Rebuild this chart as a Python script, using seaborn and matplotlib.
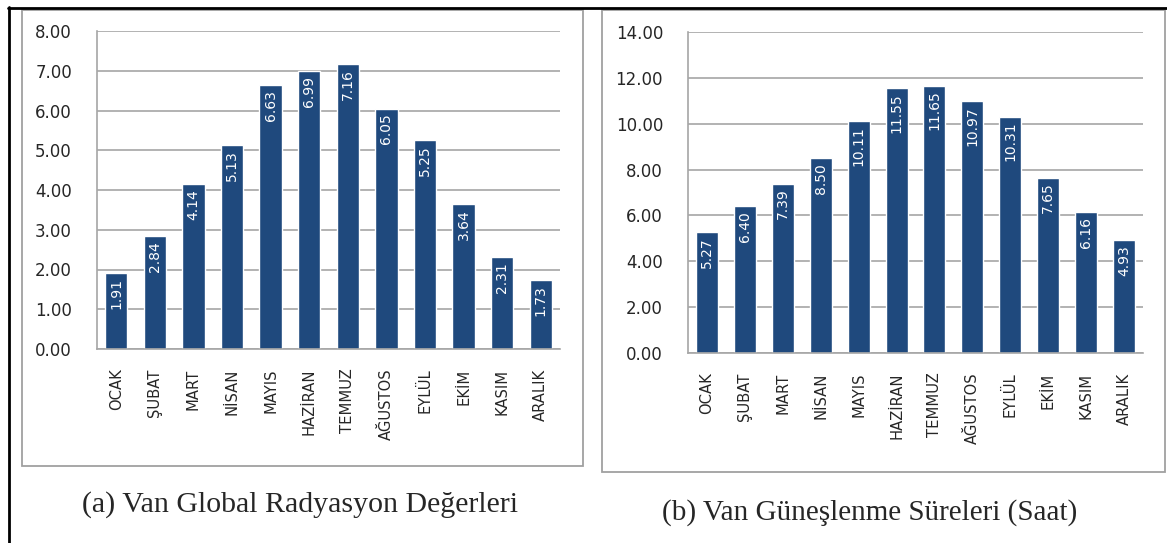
import matplotlib.pyplot as plt
import matplotlib.patches as mpatches
import numpy as np
import pandas as pd
import seaborn as sns

# -----------------------------------------------------------------------
# Data
months = ['OCAK', 'ŞUBAT', 'MART', 'NİSAN', 'MAYIS', 'HAZİRAN',
          'TEMMUZ', 'AĞUSTOS', 'EYLÜL', 'EKİM', 'KASIM', 'ARALIK']
radiation = [1.91, 2.84, 4.14, 5.13, 6.63, 6.99, 7.16, 6.05, 5.25, 3.64, 2.31, 1.73]
sunshine = [5.27, 6.40, 7.39, 8.50, 10.11, 11.55, 11.65, 10.97, 10.31, 7.65, 6.16, 4.93]
caption_a = '(a) Van Global Radyasyon Değerleri'
caption_b = '(b) Van Güneşlenme Süreleri (Saat)'

bar_color = '#1F497D'
grid_color = '#A6A6A6'

# -----------------------------------------------------------------------
sns.set_theme(style='white')
plt.rcParams['font.family'] = ['DejaVu Sans']

W, H = 1167, 543
fig = plt.figure(figsize=(W / 100, H / 100), dpi=100)


def px(x0, y0, x1, y1):
    # pixel box -> figure fraction rect
    return [x0 / W, 1 - y1 / H, (x1 - x0) / W, (y1 - y0) / H]


# Page frame lines (black) and chart boxes (gray)
fig.add_artist(plt.Line2D([8 / W, 1], [1 - 7.5 / H, 1 - 7.5 / H], color='black', lw=2))
fig.add_artist(plt.Line2D([9 / W, 9 / W], [0, 1 - 7 / H], color='black', lw=2))
for box in [(22, 10, 583, 466), (602, 10, 1165, 472)]:
    r = px(*box)
    fig.add_artist(mpatches.Rectangle((r[0], r[1]), r[2], r[3], fill=False,
                                      edgecolor='#A0A0A0', lw=1.3,
                                      transform=fig.transFigure))


def draw(rect, values, ymax, step):
    ax = fig.add_axes(rect)
    df = pd.DataFrame({'Ay': months, 'Deger': values})
    sns.barplot(data=df, x='Ay', y='Deger', color=bar_color, saturation=1,
                width=0.58, ax=ax)
    ax.set_xlim(-0.5, len(months) - 0.5)
    ax.set_ylim(0, ymax)
    ax.set_yticks(np.arange(0, ymax + 0.01, step))
    ax.set_yticklabels([f'{v:.2f}' for v in ax.get_yticks()], fontsize=12)
    ax.set_xticks(range(len(months)))
    ax.set_xticklabels(months, rotation=90, fontsize=10.6)
    ax.set_xticks(np.arange(-0.5, len(months)), minor=True)
    ax.tick_params(axis='x', which='major', length=0, pad=14)
    ax.tick_params(axis='x', which='minor', length=6, color=grid_color, width=1, direction='out')
    ax.tick_params(axis='y', length=6, color=grid_color, width=1, direction='out', pad=12)
    ax.grid(axis='y', color=grid_color, lw=1.2)
    ax.set_axisbelow(True)
    for s in ['top', 'right']:
        ax.spines[s].set_visible(False)
    for s in ['left', 'bottom']:
        ax.spines[s].set_color(grid_color)
        ax.spines[s].set_linewidth(1.2)
    ax.set_xlabel('')
    ax.set_ylabel('')
    for i, v in enumerate(values):
        ax.text(i, v - ymax * 0.015, f'{v:.2f}', rotation=90, ha='center', va='top',
                color='white', fontsize=10)
    return ax


draw(px(97, 31, 560, 349), radiation, 8, 1)
draw(px(688, 32, 1143, 353), sunshine, 14, 2)

fig.text(300 / W, 1 - 505 / H, caption_a, ha='center', va='center',
         fontsize=21.5, family='Liberation Serif')
fig.text(870 / W, 1 - 513 / H, caption_b, ha='center', va='center',
         fontsize=21, family='Liberation Serif')

fig.savefig('out.png', dpi=100)
